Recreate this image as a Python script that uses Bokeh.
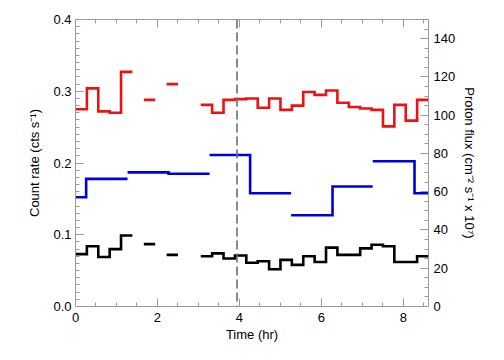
import math
from bokeh.plotting import figure
from bokeh.models import (Range1d, LinearAxis, SingleIntervalTicker, PrintfTickFormatter,
                          Span, CustomJSTickFormatter)
from bokeh.embed import file_html
from bokeh.resources import INLINE

# ---- data ----
bin_hours = 1000.0 / 3600.0  # 1000 s bins
nan = float("nan")
red_rate = [0.275, 0.304, 0.272, 0.270, 0.327, nan, 0.288, nan, 0.310, nan, nan,
            0.281, 0.270, 0.288, 0.289, 0.290, 0.277, 0.290, 0.274, 0.280, 0.299,
            0.295, 0.301, 0.284, 0.278, 0.276, 0.274, 0.251, 0.281, 0.259, 0.288]
black_rate = [0.073, 0.084, 0.069, 0.080, 0.099, nan, 0.087, nan, 0.072, nan, nan,
              0.070, 0.074, 0.067, 0.071, 0.061, 0.063, 0.052, 0.065, 0.058, 0.070,
              0.062, 0.082, 0.072, 0.072, 0.081, 0.086, 0.084, 0.062, 0.062, 0.070]
flux_start = [-0.74, 0.26, 1.27, 2.27, 3.27, 4.26, 5.26, 6.27, 7.25, 8.27]
flux_end = [0.26, 1.27, 2.27, 3.27, 4.26, 5.26, 6.27, 7.25, 8.27, 9.27]
flux_value = [57.1, 66.7, 70.1, 69.4, 79.2, 59.2, 47.7, 62.7, 75.9, 59.2]
marker_time = 3.94
x_ticks_interval = 2
FONT = "Liberation Sans"


def hist_runs(values, width):
    xs_all, ys_all = [], []
    xs, ys = [], []
    for i, v in enumerate(values):
        if v is None or (isinstance(v, float) and math.isnan(v)):
            if xs:
                xs_all.append(xs); ys_all.append(ys)
            xs, ys = [], []
            continue
        x0, x1 = i * width, (i + 1) * width
        xs += [x0, x1]
        ys += [v, v]
    if xs:
        xs_all.append(xs); ys_all.append(ys)
    return xs_all, ys_all


n_bins = len(red_rate)
p = figure(width=480, height=353, output_backend="svg", toolbar_location=None,
           x_range=Range1d(0, n_bins * bin_hours), y_range=Range1d(0, 0.4),
           min_border_left=75, min_border_right=52, min_border_top=19,
           min_border_bottom=47, x_axis_location=None, y_axis_location=None)
p.extra_y_ranges = {"flux": Range1d(0, 150)}
p.xgrid.visible = False
p.ygrid.visible = False
p.outline_line_color = "#9a9a9a"
p.outline_line_width = 1
p.background_fill_color = "white"
p.border_fill_color = "white"

AX = "#9a9a9a"


def style(ax):
    ax.axis_line_color = AX
    ax.major_tick_line_color = AX
    ax.minor_tick_line_color = AX
    ax.major_tick_in = 8
    ax.major_tick_out = 0
    ax.minor_tick_in = 4
    ax.minor_tick_out = 0
    ax.major_label_text_font = FONT
    ax.major_label_text_font_size = "13px"
    ax.major_label_text_color = "black"
    ax.axis_label_text_font = FONT
    ax.axis_label_text_font_size = "13px"
    ax.axis_label_text_font_style = "normal"
    ax.axis_label_text_color = "black"


xb = LinearAxis(ticker=SingleIntervalTicker(interval=x_ticks_interval, num_minor_ticks=4),
                axis_label="Time (hr)")
style(xb)
xb.major_label_standoff = 6
xb.axis_label_standoff = 2
p.add_layout(xb, "below")

xt = LinearAxis(ticker=SingleIntervalTicker(interval=x_ticks_interval, num_minor_ticks=4),
                formatter=CustomJSTickFormatter(code="return ''"))
style(xt)
xt.major_label_standoff = 0
p.add_layout(xt, "above")

yl = LinearAxis(ticker=SingleIntervalTicker(interval=0.1, num_minor_ticks=10),
                formatter=PrintfTickFormatter(format="%.1f"),
                axis_label="Count rate (cts s\u207b\u00b9)")
style(yl)
yl.major_label_standoff = 4
yl.axis_label_standoff = 8
p.add_layout(yl, "left")

yr = LinearAxis(y_range_name="flux",
                ticker=SingleIntervalTicker(interval=20, num_minor_ticks=4),
                axis_label="Proton flux (cm\u207b\u00b2 s\u207b\u00b9 x 10\u2077)")
style(yr)
yr.major_label_standoff = 5
yr.axis_label_standoff = 4
p.add_layout(yr, "right")

# red and black count-rate histograms
for vals, col in ((red_rate, "#ee1111"), (black_rate, "black")):
    xs, ys = hist_runs(vals, bin_hours)
    p.multi_line(xs, ys, line_color=col, line_width=2.6, line_join="miter")

# blue proton flux (pairs of hourly bins joined by a step)
bxs, bys = [], []
for i in range(0, len(flux_value), 2):
    bxs.append([flux_start[i], flux_end[i], flux_start[i + 1], flux_end[i + 1]])
    bys.append([flux_value[i], flux_value[i], flux_value[i + 1], flux_value[i + 1]])
p.multi_line(bxs, bys, line_color="#0000dd", line_width=2.6, line_join="miter",
             y_range_name="flux")

p.add_layout(Span(location=marker_time, dimension="height", line_color="#6e6e6e",
                  line_width=1.6, line_dash="9 4"))

open("out.html", "w").write(file_html(p, INLINE))
